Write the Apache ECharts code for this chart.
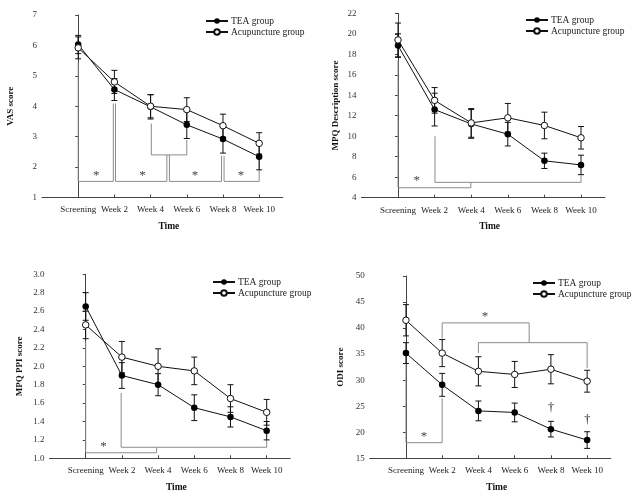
<!DOCTYPE html>
<html><head><meta charset="utf-8">
<script src="https://cdn.jsdelivr.net/npm/echarts@6/dist/echarts.min.js"></script>
<style>html,body{margin:0;padding:0;background:#fff}#c{width:640px;height:495px}</style>
</head><body><div id="c"></div>
<script>
// ---------- data ----------
const categories = ['Screening', 'Week 2', 'Week 4', 'Week 6', 'Week 8', 'Week 10'];
const groupNames = ['TEA group', 'Acupuncture group'];

// VAS score
const vasTEA = [6.03, 4.55, 3.98, 3.39, 2.92, 2.34];
const vasTEAsd = [0.30, 0.36, 0.40, 0.45, 0.46, 0.43];
const vasAcu = [5.92, 4.80, 4.00, 3.89, 3.36, 2.78];
const vasAcuSd = [0.36, 0.38, 0.38, 0.39, 0.38, 0.35];

// MPQ Description score
const descTEA = [18.85, 12.6, 11.2, 10.2, 7.6, 7.2];
const descTEAsd = [1.15, 1.6, 1.4, 1.15, 0.75, 0.95];
const descAcu = [19.4, 13.5, 11.3, 11.8, 11.05, 9.85];
const descAcuSd = [1.65, 1.25, 1.4, 1.4, 1.3, 1.1];

// MPQ PPI score
const ppiTEA = [2.65, 1.90, 1.80, 1.55, 1.45, 1.30];
const ppiTEAsd = [0.15, 0.14, 0.12, 0.14, 0.11, 0.10];
const ppiAcu = [2.45, 2.10, 2.00, 1.95, 1.65, 1.50];
const ppiAcuSd = [0.15, 0.17, 0.19, 0.15, 0.15, 0.14];

// ODI score
const odiTEA = [35.2, 29.1, 24.1, 23.8, 20.6, 18.5];
const odiTEAsd = [2.0, 2.2, 1.9, 1.8, 1.5, 1.6];
const odiAcu = [41.5, 35.2, 31.7, 31.1, 32.1, 29.8];
const odiAcuSd = [3.0, 2.6, 2.8, 2.5, 2.8, 2.1];

// y-axis ranges (min, max, interval)
const vasAxis = [1, 7, 1];
const descAxis = [4, 22, 2];
const ppiAxis = [1.0, 3.0, 0.2];
const odiAxis = [15, 50, 5];

// significance brackets (data coordinates: category index, score)
const vasBrackets = [
  [[0, 5.45], [0, 1.53], [0.97, 1.53], [0.97, 4.09]],
  [[1.03, 4.09], [1.03, 1.53], [2.45, 1.53], [2.45, 2.40]],
  [[2.02, 3.43], [2.02, 2.40], [3.0, 2.40], [3.0, 2.89]],
  [[2.52, 2.40], [2.52, 1.53], [3.96, 1.53], [3.96, 2.37]],
  [[4.03, 2.37], [4.03, 1.53], [5.0, 1.53], [5.0, 2.45]]
];
const vasMarks = [[0.5, 1.72, '*'], [1.78, 1.72, '*'], [3.23, 1.72, '*'], [4.5, 1.72, '*']];

const descBrackets = [
  [[0, 17.4], [0, 4.97], [1.99, 4.97], [1.99, 5.5]],
  [[1.01, 10.0], [1.01, 5.5], [5, 5.5], [5, 6.2]]
];
const descMarks = [[0.51, 5.65, '*']];

const ppiBrackets = [
  [[0, 2.27], [0, 1.06], [1.96, 1.06], [1.96, 1.12]],
  [[0.98, 1.71], [0.98, 1.12], [5, 1.12], [5, 1.2]]
];
const ppiMarks = [[0.49, 1.13, '*']];

const odiBrackets = [
  [[0, 33.0], [0, 18.0], [1.0, 18.0], [1.0, 26.5]],
  [[1.0, 38.0], [1.0, 41.0], [3.4, 41.0], [3.4, 37.2]],
  [[2.0, 35.2], [2.0, 37.2], [5.0, 37.2], [5.0, 32.3]]
];
const odiMarks = [[0.5, 19.2, '*'], [2.18, 42.2, '*'], [4, 24.6, '\u2020'], [5, 22.4, '\u2020']];

// ---------- chart ----------
const FONT = '"Liberation Serif", "Times New Roman", serif';
const panels = [
  {name: 'VAS score', tea: vasTEA, teaSd: vasTEAsd, acu: vasAcu, acuSd: vasAcuSd, axis: vasAxis,
   brackets: vasBrackets, marks: vasMarks, fmt: v => String(v),
   grid: {left: 42, top: 15, width: 240.7, height: 182.5}, nameGap: 27, legend: {left: 200, top: 11}},
  {name: 'MPQ Description score', tea: descTEA, teaSd: descTEAsd, acu: descAcu, acuSd: descAcuSd, axis: descAxis,
   brackets: descBrackets, marks: descMarks, fmt: v => String(v),
   grid: {left: 361.4, top: 13.3, width: 243.4, height: 184.4}, nameGap: 21, legend: {left: 520, top: 10}},
  {name: 'MPQ PPI score', tea: ppiTEA, teaSd: ppiTEAsd, acu: ppiAcu, acuSd: ppiAcuSd, axis: ppiAxis,
   brackets: ppiBrackets, marks: ppiMarks, fmt: v => v.toFixed(1),
   grid: {left: 49.5, top: 274.3, width: 240.7, height: 184}, nameGap: 25, legend: {left: 207, top: 272}},
  {name: 'ODI score', tea: odiTEA, teaSd: odiTEAsd, acu: odiAcu, acuSd: odiAcuSd, axis: odiAxis,
   brackets: odiBrackets, marks: odiMarks, fmt: v => String(v),
   grid: {left: 369.7, top: 276, width: 241, height: 182.3}, nameGap: 25, legend: {left: 527, top: 273}}
];

function errRender(params, api) {
  const x = api.value(0), lo = api.value(1), hi = api.value(2);
  const a = api.coord([x, hi]), b = api.coord([x, lo]);
  const w = 3;
  const st = {stroke: '#111', lineWidth: 1};
  return {type: 'group', children: [
    {type: 'line', shape: {x1: a[0], y1: a[1], x2: b[0], y2: b[1]}, style: st},
    {type: 'line', shape: {x1: a[0] - w, y1: a[1], x2: a[0] + w, y2: a[1]}, style: st},
    {type: 'line', shape: {x1: b[0] - w, y1: b[1], x2: b[0] + w, y2: b[1]}, style: st}
  ]};
}
function textRender(marks) {
  return function (params, api) {
    const p = api.coord([api.value(0), api.value(1)]);
    const t = marks[params.dataIndex][2];
    return {type: 'text', x: p[0], y: p[1], style: {text: t, fill: t === '*' ? '#444' : '#111',
      font: (t === '*' ? '13px ' : '12px ') + FONT, align: 'center', verticalAlign: 'middle'}};
  };
}

const grids = [], xAxes = [], yAxes = [], series = [], legends = [];
panels.forEach((p, i) => {
  grids.push(p.grid);
  xAxes.push({
    type: 'value', gridIndex: i, min: -1, max: 5.65, interval: 1,
    name: 'Time', nameLocation: 'middle', nameGap: 24,
    nameTextStyle: {fontFamily: FONT, fontWeight: 'bold', fontSize: 9.5, color: '#111', padding: [0, 0, 0, 13]},
    axisLine: {show: true, lineStyle: {color: '#444', width: 1}},
    axisTick: {show: true, inside: true, length: 3, lineStyle: {color: '#444'}, customValues: [0, 1, 2, 3, 4, 5]},
    axisLabel: {margin: 8, fontFamily: FONT, fontSize: 9, color: '#222', customValues: [0, 1, 2, 3, 4, 5],
      formatter: v => categories[Math.round(v)] || ''},
    splitLine: {show: false}
  });
  yAxes.push({
    type: 'value', gridIndex: i, min: p.axis[0], max: p.axis[1], interval: p.axis[2],
    name: p.name, nameLocation: 'middle', nameGap: p.nameGap,
    nameTextStyle: {fontFamily: FONT, fontWeight: 'bold', fontSize: 9, color: '#111'},
    axisLine: {show: true, lineStyle: {color: '#444', width: 1}},
    axisTick: {show: true, length: 3, lineStyle: {color: '#444'}},
    axisLabel: {margin: 5, fontFamily: FONT, fontSize: 9, color: '#333', formatter: p.fmt},
    splitLine: {show: false}
  });
  legends.push({
    data: groupNames, orient: 'vertical', left: p.legend.left, top: p.legend.top,
    itemWidth: 22, itemHeight: 7, itemGap: 1, selectedMode: false,
    textStyle: {fontFamily: FONT, fontSize: 9.5, color: '#222', padding: [0, 0, 0, -2]}
  });
  // brackets
  p.brackets.forEach(b => series.push({
    type: 'line', xAxisIndex: i, yAxisIndex: i, data: b, symbol: 'none', silent: true, z: 1,
    lineStyle: {color: '#8a8a8a', width: 1}, animation: false
  }));
  // error bars
  [[p.tea, p.teaSd], [p.acu, p.acuSd]].forEach(([vals, sd]) => series.push({
    type: 'custom', xAxisIndex: i, yAxisIndex: i, z: 2, silent: true, animation: false,
    renderItem: errRender, encode: {x: 0, y: [1, 2]},
    data: vals.map((v, k) => [k, v - sd[k], v + sd[k]])
  }));
  // lines
  series.push({
    name: groupNames[0], type: 'line', xAxisIndex: i, yAxisIndex: i, z: 5, animation: false,
    data: p.tea.map((v, k) => [k, v]), symbol: 'circle', symbolSize: 6.5,
    lineStyle: {color: '#111', width: 1}, itemStyle: {color: '#000'}, emphasis: {disabled: true}
  });
  series.push({
    name: groupNames[1], type: 'line', xAxisIndex: i, yAxisIndex: i, z: 5, animation: false,
    data: p.acu.map((v, k) => [k, v]), symbol: 'circle', symbolSize: 6.5,
    lineStyle: {color: '#111', width: 1}, itemStyle: {color: '#fff', borderColor: '#111', borderWidth: 1},
    emphasis: {disabled: true}
  });
  // stars / daggers
  series.push({
    type: 'custom', xAxisIndex: i, yAxisIndex: i, z: 6, silent: true, animation: false,
    renderItem: textRender(p.marks), encode: {x: 0, y: 1},
    data: p.marks.map(m => [m[0], m[1]])
  });
});

const chart = echarts.init(document.getElementById('c'), null, {renderer: 'canvas'});
chart.setOption({
  backgroundColor: '#fff', animation: false,
  grid: grids, xAxis: xAxes, yAxis: yAxes, legend: legends, series: series
});
</script></body></html>
